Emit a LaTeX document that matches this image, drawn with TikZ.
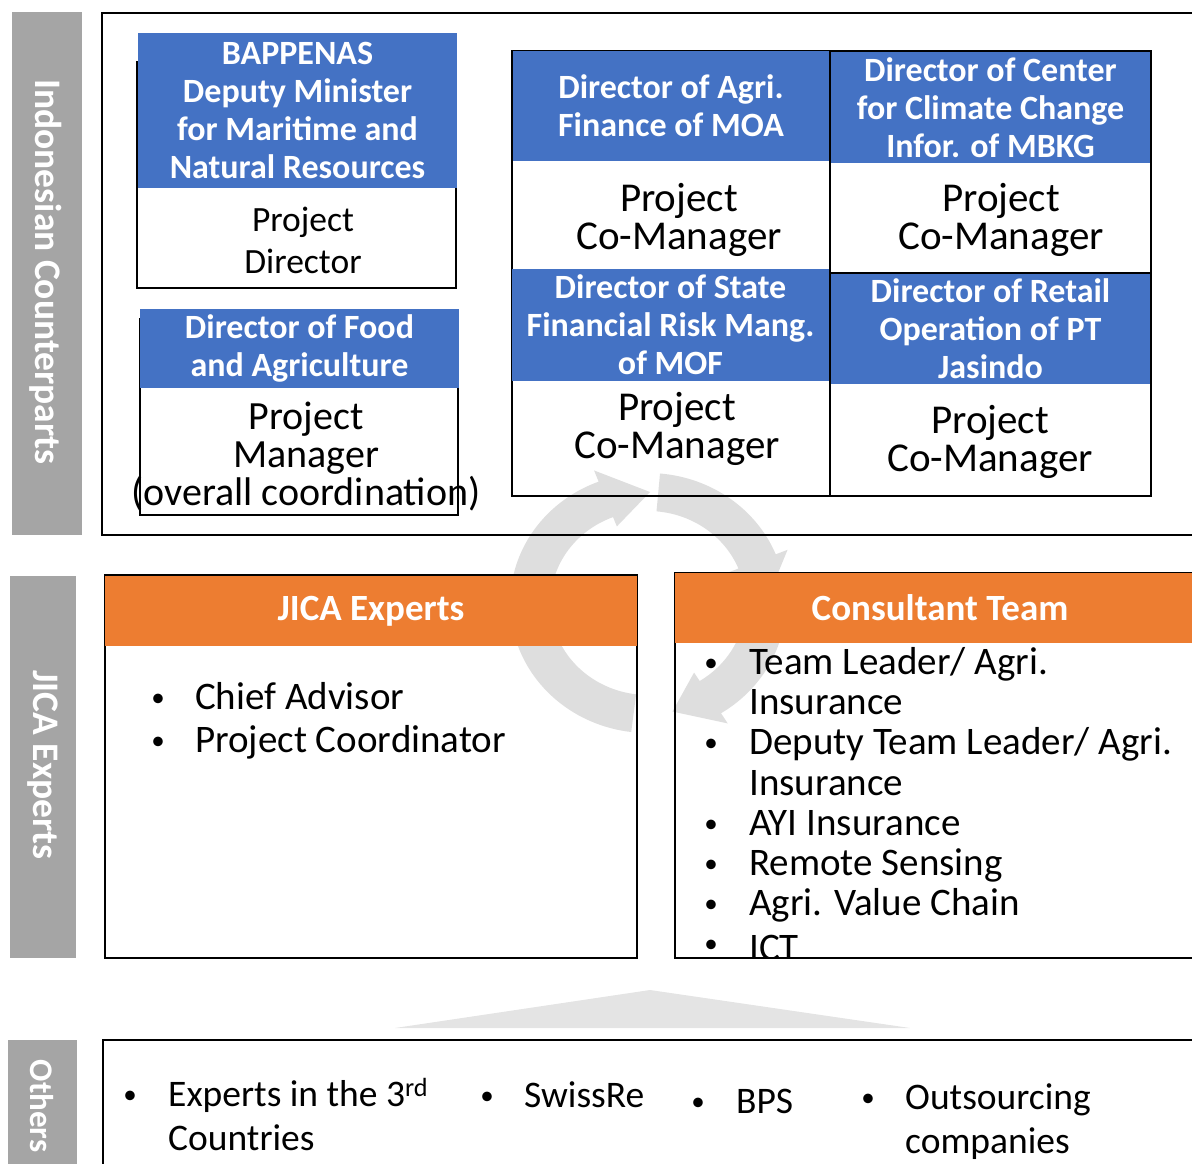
\documentclass[tikz,border=0pt]{standalone}
\usepackage{fontspec}
\setmainfont{Carlito}
\definecolor{hdrblue}{HTML}{4472C4}
\definecolor{hdrorange}{HTML}{ED7D31}
\definecolor{sidegrey}{HTML}{A5A5A5}
\definecolor{cyclegrey}{HTML}{DEDEDE}
\definecolor{wedgegrey}{HTML}{E4E4E4}

% one curved arrow of the cycle: start angle, head base angle, tip angle
\newcommand\cycleseg[3]{%
  \fill[cyclegrey] (#1:130) arc[start angle=#1, end angle=#2, radius=130]
    -- (#2:142) -- (#3:111) -- (#2:82) -- (#2:92)
    arc[start angle=#2, end angle=#1, radius=92] -- cycle;}

\tikzset{
  frame/.style={draw=black, line width=2.2pt},
  sidebar/.style={fill=sidegrey},
  sidelabel/.style={text=white, font=\bfseries\fontsize{37.5}{40}\selectfont, rotate=-90, inner sep=0pt},
  bluehdr/.style={fill=hdrblue, text=white, align=center, inner sep=0pt,
    font=\bfseries\fontsize{34}{38}\selectfont},
  orangehdr/.style={fill=hdrorange, text=white, align=center, inner sep=0pt,
    font=\bfseries\fontsize{37}{40}\selectfont},
  role/.style={align=center, inner sep=0pt, font=\fontsize{41}{38}\selectfont},
  bulletmark/.style={anchor=base, inner sep=0pt, yshift=3pt, font=\fontsize{27}{30}\selectfont},
  itemtext/.style={anchor=base west, inner sep=0pt, font=\fontsize{39}{40}\selectfont},
  othertext/.style={anchor=base west, inner sep=0pt, font=\fontsize{37.5}{40}\selectfont},
}

\begin{document}
\begin{tikzpicture}[x=1pt, y=-1pt]
\useasboundingbox (0,0) rectangle (1192,1164);
\clip (0,0) rectangle (1192,1164);

% cycle arrows in the background
\begin{scope}[shift={(648,603)}, xscale=1.06]
  \cycleseg{189}{249}{271}
  \cycleseg{275}{338}{360}
  \cycleseg{4}{58}{78}
  \cycleseg{97}{165}{185}
\end{scope}

% wedge above the bottom band
\fill[wedgegrey] (395,1028) -- (650,990) -- (910,1028) -- cycle;

% side bars
\fill[sidebar] (12,12) rectangle (82,535);
\node[sidelabel] (lblIndo) at (46,272) {Indonesian Counterparts};
\fill[sidebar] (10,576) rectangle (76,958);
\node[sidelabel] (lblJica) at (43,765) {JICA Experts};
\fill[sidebar] (8,1040) rectangle (77,1175);
\node[sidelabel, font=\bfseries\fontsize{33}{36}\selectfont] (lblOther) at (42,1106) {Others};

% outer frames
\draw[frame] (102,13) rectangle (1215,535);
\draw[frame] (103,1040) rectangle (1215,1180);

% BAPPENAS
\draw[frame] (137,62) rectangle (456,288);
\node[bluehdr, minimum width=319pt, minimum height=155pt] (bapH) at (297.5,110.5)
  {BAPPENAS\\Deputy Minister\\for Maritime and\\Natural Resources};
\node[role, font=\fontsize{35.5}{42}\selectfont] (bapB) at (303,240) {Project\\Director};

% Food and Agriculture
\draw[frame] (140,319) rectangle (458,515);
\node[bluehdr, minimum width=319pt, minimum height=79pt] (foodH) at (299.5,348.5)
  {Director of Food\\and Agriculture};
\node[role, font=\fontsize{40}{38}\selectfont] (foodB) at (306,457)
  {Project\\Manager\\(overall coordination)};

% four co-manager cells
\draw[frame] (512,51) rectangle (830,270);
\draw[frame] (830,51) rectangle (1151,273);
\draw[frame] (512,270) rectangle (830,496);
\draw[frame] (830,273) rectangle (1151,496);
\node[bluehdr, minimum width=316pt, minimum height=110pt] (moaH) at (671,106)
  {Director of Agri.\\Finance of MOA};
\node[bluehdr, minimum width=319pt, minimum height=111pt] (mbkgH) at (990.5,107.5)
  {Director of Center\\for Climate Change\\Infor. of MBKG};
\node[bluehdr, minimum width=317pt, minimum height=112pt] (mofH) at (670.5,325)
  {Director of State\\Financial Risk Mang.\\of MOF};
\node[bluehdr, minimum width=319pt, minimum height=110pt] (jasH) at (990.5,329)
  {Director of Retail\\Operation of PT\\Jasindo};
\node[role] (moaB) at (679,220) {Project\\Co-Manager};
\node[role] (mbkgB) at (1001,220) {Project\\Co-Manager};
\node[role] (mofB) at (677,429) {Project\\Co-Manager};
\node[role] (jasB) at (990,442) {Project\\Co-Manager};

% JICA experts
\draw[frame] (105,575) rectangle (637,958);
\node[orangehdr, minimum width=532pt, minimum height=70pt] (jicaH) at (371,611) {JICA Experts};
\node[bulletmark] (jb1) at (158,709) {•};
\node[itemtext] (ji1) at (195,709) {Chief Advisor};
\node[bulletmark] (jb2) at (158,752) {•};
\node[itemtext] (ji2) at (195,752) {Project Coordinator};

% consultant team
\draw[frame] (675,573) rectangle (1215,958);
\node[orangehdr, minimum width=530pt, minimum height=70pt] (consH) at (940,608) {Consultant Team};
\node[bulletmark] (cb1) at (711,674) {•};
\node[itemtext] (ci1) at (749,674) {Team Leader/ Agri.};
\node[itemtext] (ci1b) at (749,714) {Insurance};
\node[bulletmark] (cb2) at (711,754) {•};
\node[itemtext] (ci2) at (749,754) {Deputy Team Leader/ Agri.};
\node[itemtext] (ci2b) at (749,795) {Insurance};
\node[bulletmark] (cb3) at (711,835) {•};
\node[itemtext] (ci3) at (749,835) {AYI Insurance};
\node[bulletmark] (cb4) at (711,875) {•};
\node[itemtext] (ci4) at (749,875) {Remote Sensing};
\node[bulletmark] (cb5) at (711,915) {•};
\node[itemtext] (ci5) at (749,915) {Agri. Value Chain};
\begin{scope}
  \clip (675,573) rectangle (1215,957);
  \node[bulletmark] (cb6) at (711,955) {•};
  \node[itemtext] (ci6) at (749,960) {ICT};
\end{scope}
\draw[frame] (675,958) -- (1215,958);

% others
\node[bulletmark] (ob1) at (130,1106) {•};
\node[othertext] (oi1) at (168,1106) {Experts in the 3\textsuperscript{rd}};
\node[othertext] (oi1b) at (168,1150) {Countries};
\node[bulletmark] (ob2) at (487,1107) {•};
\node[othertext] (oi2) at (524,1107) {SwissRe};
\node[bulletmark] (ob3) at (698,1113) {•};
\node[othertext] (oi3) at (736,1113) {BPS};
\node[bulletmark] (ob4) at (868,1109) {•};
\node[othertext] (oi4) at (905,1109) {Outsourcing};
\node[othertext] (oi4b) at (905,1153) {companies};
\end{tikzpicture}
\end{document}
